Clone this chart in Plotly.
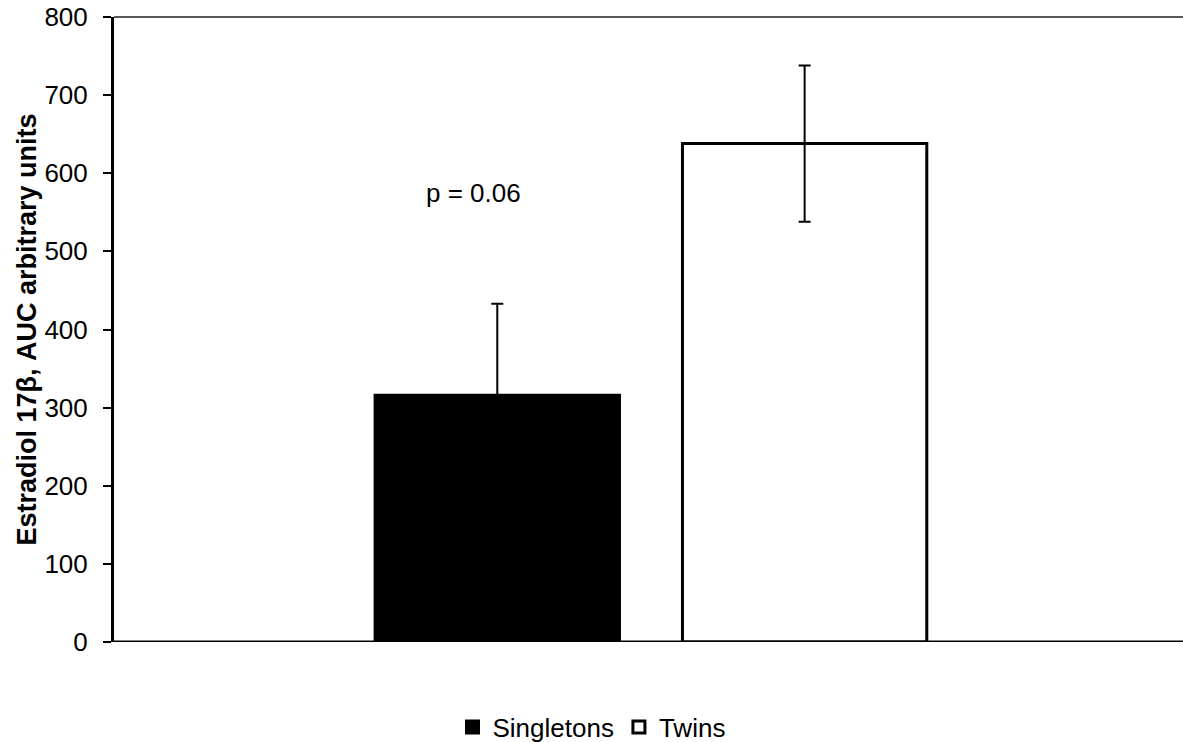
import plotly.graph_objects as go

groups = ["Singletons", "Twins"]
values = [316, 638]
err_plus = [117, 100]
err_minus = [0, 100]
fills = ["black", "white"]
y_ticks = [0, 100, 200, 300, 400, 500, 600, 700, 800]
annotation_text = "p = 0.06"

fig = go.Figure()
for g, v, ep, em, fc in zip(groups, values, err_plus, err_minus, fills):
    fig.add_trace(go.Bar(
        name=g, x=[""], y=[v],
        marker=dict(color=fc, line=dict(color="black", width=3)),
        error_y=dict(type="data", symmetric=False, array=[ep], arrayminus=[em],
                     color="black", thickness=2, width=6),
    ))

fig.update_layout(
    barmode="group", bargap=0.425, bargroupgap=0.205,
    width=1183, height=742,
    margin=dict(l=114, r=0, t=17, b=100),
    plot_bgcolor="white", paper_bgcolor="white",
    font=dict(family="Liberation Sans, Arial", size=26, color="black"),
    showlegend=True,
    legend=dict(orientation="h", xref="container", yref="container",
                x=0.5, xanchor="center", y=0.02, yanchor="middle",
                font=dict(size=26), itemwidth=30, tracegroupgap=0),
    xaxis=dict(type="category", range=[-0.5023, 0.4977], showticklabels=False,
               showline=False, ticks="", showgrid=False, zeroline=False),
    yaxis=dict(range=[0, 800], tickvals=y_ticks, showgrid=False, zeroline=False,
               showline=True, linecolor="black", linewidth=3,
               ticks="outside", ticklen=8, tickwidth=2, tickcolor="black",
               tickfont=dict(size=26), ticklabelstandoff=10,
               title=dict(text="<b>Estradiol 17β, AUC arbitrary units</b>",
                          font=dict(size=27), standoff=0)),
)

# top border and baseline
fig.add_shape(type="line", xref="paper", yref="paper", x0=0, x1=1, y0=1, y1=1,
              line=dict(color="#222", width=1.5))
fig.add_shape(type="line", xref="paper", yref="y", x0=0, x1=1, y0=0, y1=0,
              line=dict(color="black", width=3))
fig.add_shape(type="line", xref="paper", yref="y", x0=0, x1=0, y0=0, y1=-10,
              line=dict(color="black", width=2))

fig.add_annotation(text=annotation_text, x=0.336, xref="paper", y=575, yref="y",
                   showarrow=False, font=dict(size=26), xanchor="center", yanchor="middle")

fig.write_html("out.html")
